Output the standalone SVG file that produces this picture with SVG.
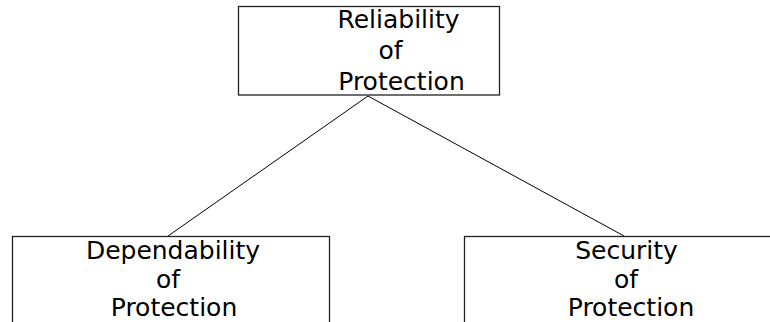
<svg xmlns="http://www.w3.org/2000/svg" width="770" height="322" viewBox="0 0 770 322">
  <style>
    .box { fill: #ffffff; stroke: #222222; stroke-width: 1.3; }
    .lbl { font-family: "DejaVu Sans", Verdana, sans-serif; font-size: 25px; fill: #000000; text-anchor: middle; }
    .edge { stroke: #000000; stroke-width: 1; fill: none; }
  </style>
  <rect width="770" height="322" fill="#ffffff"/>
  <g id="connectors">
    <line class="edge" x1="368" y1="96" x2="168" y2="236"/>
    <line class="edge" x1="368" y1="96" x2="624" y2="236"/>
  </g>
  <g id="reliability">
    <rect class="box" x="238.5" y="6.5" width="261" height="88.5"/>
    <text class="lbl" x="398.5" y="28">Reliability</text>
    <text class="lbl" x="390.5" y="59">of</text>
    <text class="lbl" x="401.5" y="90">Protection</text>
  </g>
  <g id="dependability">
    <rect class="box" x="12.5" y="236.5" width="317" height="100"/>
    <text class="lbl" x="173" y="259">Dependability</text>
    <text class="lbl" x="168" y="288">of</text>
    <text class="lbl" x="174" y="316">Protection</text>
  </g>
  <g id="security">
    <rect class="box" x="464.5" y="236.5" width="320" height="100"/>
    <text class="lbl" x="626.5" y="259">Security</text>
    <text class="lbl" x="626" y="288">of</text>
    <text class="lbl" x="631" y="316">Protection</text>
  </g>
</svg>
